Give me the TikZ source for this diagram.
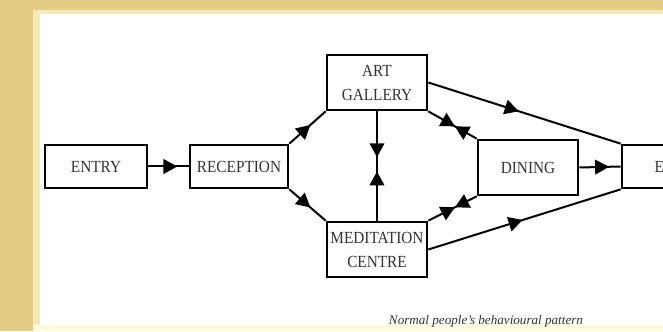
\documentclass[tikz,border=0pt]{standalone}
\usepackage{fontspec}
\setmainfont{Liberation Serif}
\newfontfamily\boxfont{Liberation Serif}[FakeStretch=0.9]
\usetikzlibrary{arrows.meta,decorations.markings}

\definecolor{frametan}{RGB}{228,204,132}
\definecolor{framelight}{RGB}{245,232,185}
\definecolor{footyellow}{RGB}{255,249,222}
\definecolor{boxtext}{RGB}{50,50,50}

\tikzset{
  box/.style={draw, line width=0.08cm, minimum height=1.29cm, inner sep=0pt,
    align=center, text=boxtext, font=\boxfont\fontsize{14.5}{20.5}\selectfont},
  tallbox/.style={box, minimum height=1.65cm},
  link/.style={line width=0.06cm},
  tip/.tip={Triangle[length=0.42cm, width=0.44cm]},
  flowto/.style={link, postaction={decorate},
    decoration={markings, mark=at position #1 with {\arrow{tip}}}},
  meetat/.style 2 args={link, postaction={decorate},
    decoration={markings, mark=at position #1 with {\arrow{tip}},
      mark=at position #2 with {\arrowreversed{tip}}}}
}

\begin{document}
\begin{tikzpicture}
  \useasboundingbox (0,0) rectangle (19.890000,9.930000);
  \clip (0,0) rectangle (19.890000,9.930000);

  % Frame of the slide
  \fill [frametan] (0,0) rectangle (19.890000,9.930000);
  \fill [framelight] (0.990000,0.180000) rectangle (19.890000,9.630000);
  \fill [white] (1.200000,0.180000) rectangle (19.890000,9.510000);
  \fill [footyellow] (0.990000,0) rectangle (19.890000,0.180000);

  % Marking box ENTRY
  \node [box, minimum width=3.06cm] (entry) at (2.880000,4.935000) {ENTRY};
  % Marking box RECEPTION
  \node [box, minimum width=2.94cm] (reception) at (7.170000,4.935000) {RECEPTION};
  % Marking box ART GALLERY
  \node [tallbox, minimum width=3.00cm] (art) at (11.310000,7.455000) {ART\\GALLERY};
  % Marking box MEDITATION CENTRE
  \node [tallbox, minimum width=3.00cm] (meditation) at (11.310000,2.445000) {MEDITATION\\CENTRE};
  % Marking box DINING
  \node [tallbox, minimum width=3.00cm] (dining) at (15.840000,4.905000) {DINING};
  % Marking box EXIT
  \node [box, minimum width=3.00cm] (exit) at (20.160000,4.935000) {EXIT};

  % Drawing connectors
  \draw [flowto=0.72] (entry.east) -- (reception.west);
  \draw [flowto=0.58] (reception.north east) -- (art.south west);
  \draw [flowto=0.58] (reception.south east) -- (meditation.north west);
  \draw [meetat={0.42}{0.55}] (art.south) -- (meditation.north);
  \draw [meetat={0.55}{0.55}] (art.south east) -- (dining.north west);
  \draw [meetat={0.55}{0.55}] (meditation.north east) -- (dining.south west);
  \draw [flowto=0.47] (art.east) -- (exit.north west);
  \draw [flowto=0.49] (meditation.east) -- (exit.south west);
  \draw [flowto=0.72] (dining.east) -- (exit.west);

  % Caption
  \node [font=\fontsize{11.2}{12}\selectfont\itshape, text=boxtext] (caption)
    at (14.580000,0.300000) {Normal people's behavioural pattern};
\end{tikzpicture}
\end{document}
